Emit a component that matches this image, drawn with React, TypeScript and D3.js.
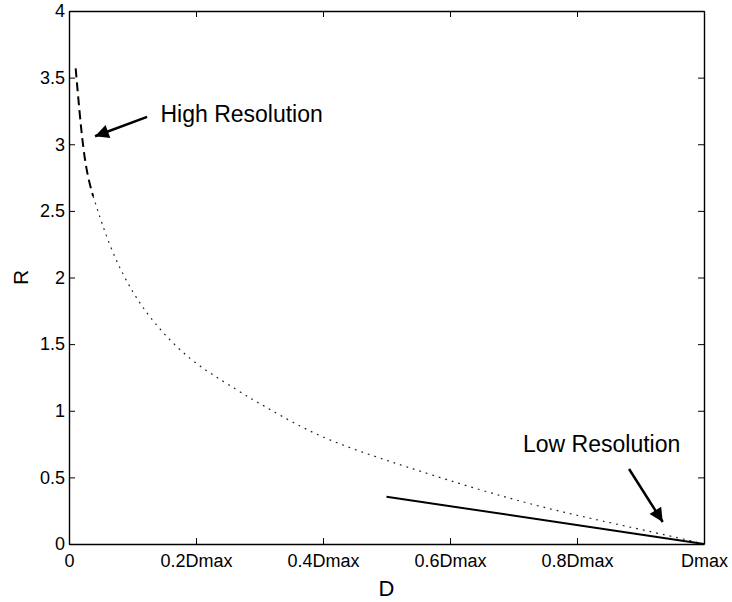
import React, { useEffect, useRef } from 'react'
import * as d3 from 'd3'

// rate-distortion curve (D as a fraction of Dmax)
const highResD = [0.0105, 0.0225, 0.038]
const highResR = [3.57, 2.98, 2.61]

const curveD = [0.038, 0.065, 0.1, 0.138, 0.19, 0.243, 0.285, 0.311, 0.39, 0.482, 0.547, 0.647, 0.742, 0.805, 0.847, 0.952, 1.0]
const curveR = [2.61, 2.21, 1.88, 1.63, 1.38, 1.22, 1.095, 1.025, 0.81, 0.655, 0.555, 0.405, 0.28, 0.21, 0.165, 0.055, 0]

const lowResD = [0.5, 1.0]
const lowResR = [0.355, 0]

const xTicks = [0, 0.2, 0.4, 0.6, 0.8, 1]
const xTickLabels = ['0', '0.2Dmax', '0.4Dmax', '0.6Dmax', '0.8Dmax', 'Dmax']
const yTicks = [0, 0.5, 1, 1.5, 2, 2.5, 3, 3.5, 4]
const yTickLabels = ['0', '0.5', '1', '1.5', '2', '2.5', '3', '3.5', '4']

// annotation text positions and arrows, in data units
const annoText = ['High Resolution', 'Low Resolution']
const annoAt = [[0.144, 3.17], [0.715, 0.693]]
const arrowFrom = [[0.123, 3.205], [0.882, 0.563]]
const arrowTo = [[0.041, 3.06], [0.935, 0.165]]

const W = 732
const H = 602
const margin = { left: 69, right: 28, top: 11, bottom: 58 }
const font = '"Liberation Sans", Arial, Helvetica, sans-serif'

export default function App() {
  const ref = useRef<SVGSVGElement>(null)

  useEffect(() => {
    const svg = d3.select(ref.current)
    svg.selectAll('*').remove()

    const x = d3.scaleLinear().domain([0, 1]).range([margin.left, W - margin.right])
    const y = d3.scaleLinear().domain([0, 4]).range([H - margin.bottom, margin.top])

    const defs = svg.append('defs')
    defs.append('marker')
      .attr('id', 'head')
      .attr('viewBox', '0 0 10 10')
      .attr('refX', 10)
      .attr('refY', 5)
      .attr('markerWidth', 6.5)
      .attr('markerHeight', 5.5)
      .attr('markerUnits', 'strokeWidth')
      .attr('orient', 'auto')
      .append('path')
      .attr('d', 'M0,0 L10,5 L0,10 z')
      .attr('fill', '#000')

    // axes (ticks inward, mirrored on top/right like MATLAB)
    const bottom = svg.append('g')
      .attr('transform', `translate(0,${y(0)})`)
      .call(d3.axisBottom(x).tickValues(xTicks)
        .tickFormat((d, i) => xTickLabels[i])
        .tickSizeInner(-6).tickSizeOuter(0).tickPadding(10))
    const left = svg.append('g')
      .attr('transform', `translate(${x(0)},0)`)
      .call(d3.axisLeft(y).tickValues(yTicks)
        .tickFormat((d, i) => yTickLabels[i])
        .tickSizeInner(-6).tickSizeOuter(0).tickPadding(4))
    const top = svg.append('g')
      .attr('transform', `translate(0,${y(4)})`)
      .call(d3.axisTop(x).tickValues(xTicks).tickFormat(() => '')
        .tickSizeInner(-6).tickSizeOuter(0))
    const right = svg.append('g')
      .attr('transform', `translate(${x(1)},0)`)
      .call(d3.axisRight(y).tickValues(yTicks).tickFormat(() => '')
        .tickSizeInner(-6).tickSizeOuter(0))

    for (const g of [bottom, left, top, right]) {
      g.select('.domain').attr('stroke', '#000').attr('stroke-width', 1.4)
      g.selectAll('.tick line').attr('stroke', '#000').attr('stroke-width', 1)
      g.selectAll('.tick text')
        .attr('fill', '#000')
        .style('font-family', font)
        .style('font-size', '18px')
    }

    // axis titles
    svg.append('text')
      .attr('x', (x(0) + x(1)) / 2)
      .attr('y', 596)
      .attr('text-anchor', 'middle')
      .style('font-family', font)
      .style('font-size', '22px')
      .text('D')
    svg.append('text')
      .attr('transform', `translate(28,${(y(0) + y(4)) / 2}) rotate(-90)`)
      .attr('text-anchor', 'middle')
      .style('font-family', font)
      .style('font-size', '21px')
      .text('R')

    // dotted rate-distortion curve
    svg.append('path')
      .attr('d', d3.line<number>()
        .x(d => x(d))
        .y((d, i) => y(curveR[i]))
        .curve(d3.curveBasis)(curveD))
      .attr('fill', 'none')
      .attr('stroke', '#222')
      .attr('stroke-width', 1.2)
      .attr('stroke-dasharray', '1.8,5')

    // high resolution part, dashed
    svg.append('path')
      .attr('d', d3.line<number>()
        .x(d => x(d))
        .y((d, i) => y(highResR[i]))
        .curve(d3.curveMonotoneX)(highResD))
      .attr('fill', 'none')
      .attr('stroke', '#000')
      .attr('stroke-width', 2)
      .attr('stroke-dasharray', '9,5')

    // low resolution approximation, solid
    svg.append('path')
      .attr('d', d3.line<number>().x(d => x(d)).y((d, i) => y(lowResR[i]))(lowResD))
      .attr('fill', 'none')
      .attr('stroke', '#000')
      .attr('stroke-width', 2)

    // annotations
    annoText.forEach((t, i) => {
      svg.append('line')
        .attr('x1', x(arrowFrom[i][0]))
        .attr('y1', y(arrowFrom[i][1]))
        .attr('x2', x(arrowTo[i][0]))
        .attr('y2', y(arrowTo[i][1]))
        .attr('stroke', '#000')
        .attr('stroke-width', 2.5)
        .attr('marker-end', 'url(#head)')
      svg.append('text')
        .attr('x', x(annoAt[i][0]))
        .attr('y', y(annoAt[i][1]))
        .style('font-family', font)
        .style('font-size', '23px')
        .text(t)
    })
  }, [])

  return (
    <svg ref={ref} width={W} height={H}
      style={{ position: 'absolute', left: 0, top: 0, background: '#fff' }} />
  )
}
